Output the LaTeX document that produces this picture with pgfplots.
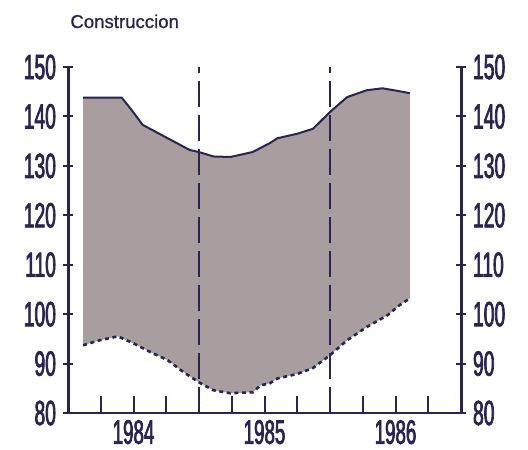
\documentclass[border=0pt]{standalone}
\usepackage{fontspec}
\setmainfont{Liberation Sans}
\newfontfamily\condfont[FakeStretch=0.55,FakeBold=2]{Liberation Sans}
\newfontfamily\yearfont[FakeStretch=0.55,FakeBold=2]{Liberation Sans}
\newfontfamily\titlefont[FakeBold=0.8]{Liberation Sans}
\usepackage{pgfplots}
\pgfplotsset{compat=1.18}
\usepgfplotslibrary{fillbetween}
\definecolor{ink}{HTML}{2A2450}
\definecolor{area}{HTML}{A89EA0}

% x = years since the start of 1984
\pgfplotsset{
  base/.style={
    width=196.5pt, height=173pt, scale only axis,
    xmin=0, xmax=3, ymin=80, ymax=150,
    /pgf/number format/assume math mode=true,
    ticklabel style={font=\condfont\fontsize{17.5}{18}\selectfont, text=ink},
    axis line style={ink, line width=1.5pt},
    every non boxed x axis/.append style={x axis line style={-}},
    every non boxed y axis/.append style={y axis line style={-}},
    every tick/.style={ink, line width=1pt},
  },
  yside/.style={
    base, axis x line=none, xtick=\empty,
    ytick={80,90,...,150}, tick align=outside, major tick length=5pt,
  },
}

\begin{document}
\begin{tikzpicture}
% data and time axis
\begin{axis}[base, set layers, axis on top,
    axis x line=bottom, axis y line=none, ytick=\empty,
    x axis line style={-, line width=1.1pt},
    xtick={0.5,1.5,2.5}, xticklabels={1984,1985,1986},
    xticklabel style={font=\yearfont\fontsize{17}{18}\selectfont},
    minor xtick={0.25,0.75,1.25,1.75,2.25,2.75},
    tick align=inside, major tick length=8.5pt, minor tick length=8.5pt,
    extra x ticks={1,2}, extra x tick labels={},
    extra x tick style={grid=major, major tick length=0pt,
      major grid style={ink, line width=1.4pt, dash pattern=on 13pt off 4pt}},
  ]
  \addplot[name path=up, ink, line width=1pt] coordinates {
    (0.115,143.8) (0.41,143.8) (0.48,141.5) (0.57,138.3)
    (0.76,135.6) (0.93,133.2) (1.0,132.8) (1.11,131.9)
    (1.24,131.8) (1.41,132.8) (1.54,134.6) (1.60,135.6)
    (1.75,136.5) (1.87,137.5) (2.0,140.9) (2.13,143.9)
    (2.28,145.3) (2.40,145.7) (2.53,145.1) (2.61,144.7)};
  \addplot[name path=lo, ink, line width=1.3pt, dash pattern=on 2pt off 1.8pt] coordinates {
    (0.115,93.7) (0.24,94.7) (0.38,95.5) (0.50,94.1)
    (0.63,92.3) (0.76,90.7) (0.88,88.3) (1.0,86.2)
    (1.11,84.6) (1.24,84.0) (1.41,84.2) (1.47,85.6)
    (1.54,86.0) (1.60,87.0) (1.75,87.9) (1.87,89.1)
    (2.0,91.7) (2.13,94.7) (2.28,97.4) (2.44,99.8)
    (2.53,101.8) (2.61,103.2)};
  \addplot[area, draw=none] fill between[of=up and lo];
  \draw[ink, line width=1.4pt] (axis cs:1,80) -- ++(0,-10pt);
  \draw[ink, line width=1.4pt] (axis cs:2,80) -- ++(0,-10pt);
  \draw[ink, line width=1.5pt] (axis cs:0,80) -- ++(0,-10pt);
  \draw[ink, line width=1.5pt] (axis cs:3,80) -- ++(0,-10pt);
\end{axis}

% left scale
\begin{axis}[yside, axis y line=left, y axis line style={-},
    title={Construccion},
    title style={at={(0,1)}, anchor=base west, xshift=1pt, yshift=13.5pt,
      font=\titlefont\fontsize{9.3}{10}\selectfont, text=ink, inner sep=0pt},
  ]
\end{axis}

% right scale
\begin{axis}[yside, axis y line=right, y axis line style={-}]
\end{axis}

\pgfresetboundingbox
\path[use as bounding box] (-34pt,-18pt) rectangle (230pt,206.5pt);
\end{tikzpicture}
\end{document}
